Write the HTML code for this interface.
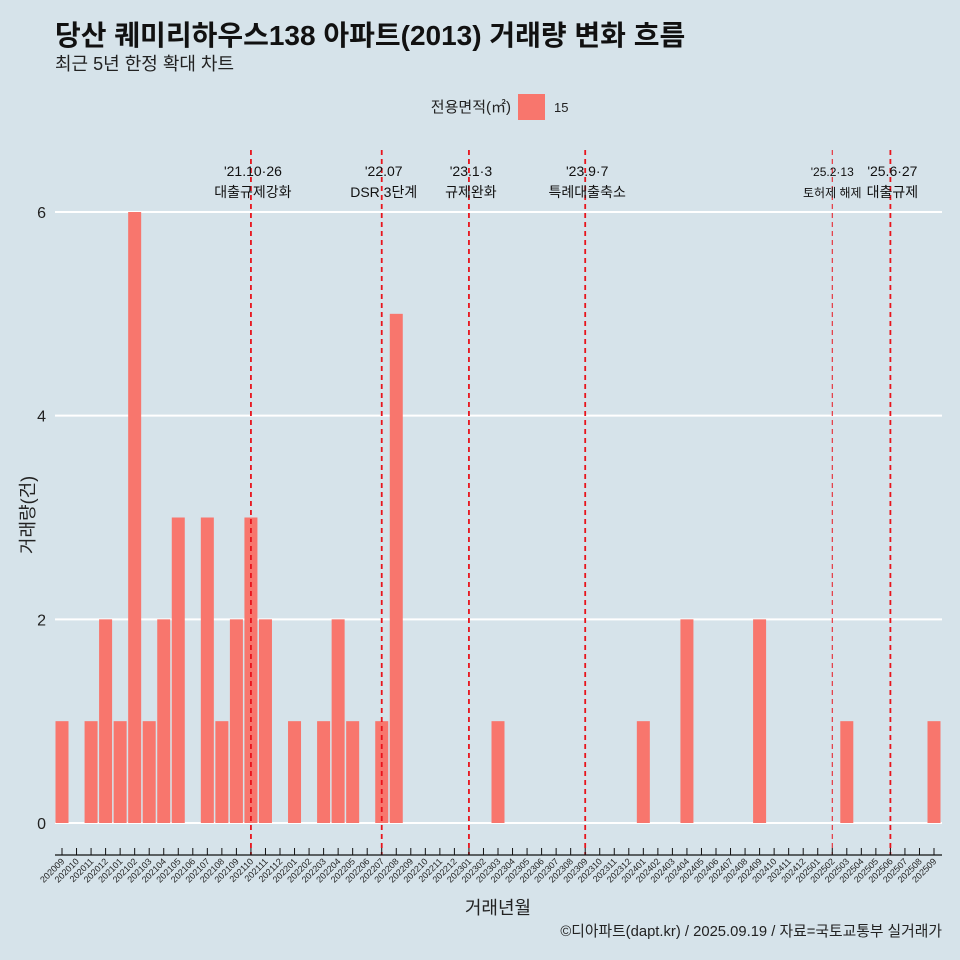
<!DOCTYPE html>
<html><head><meta charset="utf-8"><style>
html,body{margin:0;width:960px;height:960px;overflow:hidden;background:#d6e3ea;font-family:"Liberation Sans","Noto Sans CJK KR",sans-serif}
svg{display:block}
svg text{font-family:"Liberation Sans","Noto Sans CJK KR",sans-serif}
</style></head><body>
<svg id="c" width="960" height="960" viewBox="0 0 960 960">
<rect width="960" height="960" fill="#d6e3ea"/>
<text x="55" y="45" font-size="28" font-weight="bold" fill="#111">당산 퀘미리하우스138 아파트(2013) 거래량 변화 흐름</text>
<text x="55" y="70" font-size="18" fill="#222">최근 5년 한정 확대 차트</text>
<g>
<text x="511" y="112" font-size="15" text-anchor="end" fill="#222">전용면적(㎡)</text>
<rect x="518" y="94" width="27" height="26" fill="#f8766d"/>
<text x="554" y="112" font-size="13" fill="#222">15</text>
</g>
<g id="grid"></g><g id="bars"></g><g id="events"></g><g id="axes"></g>
<text transform="translate(34,515) rotate(-90)" font-size="18" text-anchor="middle" fill="#222">거래량(건)</text>
<text x="498" y="914" font-size="18" text-anchor="middle" fill="#222">거래년월</text>
<text x="942" y="936" font-size="14.8" text-anchor="end" fill="#222">©디아파트(dapt.kr) / 2025.09.19 / 자료=국토교통부 실거래가</text>
</svg>
<script>
const months=[];for(let y=2020;y<=2025;y++)for(let m=1;m<=12;m++){const k=y*100+m;if(k>=202009&&k<=202509)months.push(String(k));}
const counts=[1,0,1,2,1,6,1,2,3,0,3,1,2,3,2,0,1,0,1,2,1,0,1,5,0,0,0,0,0,0,1,0,0,0,0,0,0,0,0,0,1,0,0,2,0,0,0,0,2,0,0,0,0,0,1,0,0,0,0,0,1];
const yTicks=[0,2,4,6];
const eventMonths=["202110","202207","202301","202309","202502","202506"];
const eventDates=["'21.10·26","'22.07","'23.1·3","'23.9·7","'25.2·13","'25.6·27"];
const eventLabels=["대출규제강화","DSR 3단계","규제완화","특례대출축소","토허제 해제","대출규제"];
const NS="http://www.w3.org/2000/svg";
function mk(t,a,p){const e=document.createElementNS(NS,t);for(const k in a)e.setAttribute(k,a[k]);p.appendChild(e);return e;}
const x=i=>62+i*(872/(months.length-1));
const y=v=>823-v*(611/6);
const bw=13;
const grid=document.getElementById('grid');
yTicks.forEach(t=>{
 const l=mk('line',{x1:55,x2:942,y1:y(t),y2:y(t),stroke:'#fff','stroke-width':2},grid);
 
 const tx=mk('text',{x:46,y:y(t)+6,'font-size':16,'text-anchor':'end',fill:'#222'},grid);tx.textContent=t;
 
});
const bars=document.getElementById('bars');
counts.forEach((v,i)=>{if(v<=0)return;
 const r=mk('rect',{x:x(i)-bw/2,y:y(v),width:bw,height:y(0)-y(v),fill:'#f8766d'},bars);
 
});
const ev=document.getElementById('events');
eventMonths.forEach((m,j)=>{const i=months.indexOf(m);const thin=m==="202502";
 const l=mk('line',{x1:x(i),x2:x(i),y1:150,y2:855,stroke:'#e8141c','stroke-width':thin?1:1.8,'stroke-dasharray':'5,4'},ev);
 
 const cx=x(i)+(thin?0:2);const fs=thin?12:14;
 const d=mk('text',{x:cx,y:176,'font-size':fs,'text-anchor':'middle',fill:'#111'},ev);d.textContent=eventDates[j];
 
 const t=mk('text',{x:cx,y:197,'font-size':fs,'text-anchor':'middle',fill:'#111'},ev);t.textContent=eventLabels[j];
 
});
const ax=document.getElementById('axes');
const al=mk('line',{x1:55,x2:942,y1:855,y2:855,stroke:'#111','stroke-width':1.2},ax);

months.forEach((m,i)=>{
 const tk=mk('line',{x1:x(i),x2:x(i),y1:848,y2:855,stroke:'#111'},ax);
 
 const t=mk('text',{x:x(i)+3,y:862,'font-size':9,'text-anchor':'end',fill:'#222',transform:`rotate(-45 ${x(i)+3} 862)`},ax);t.textContent=m;
 
});
</script>
</body></html>
